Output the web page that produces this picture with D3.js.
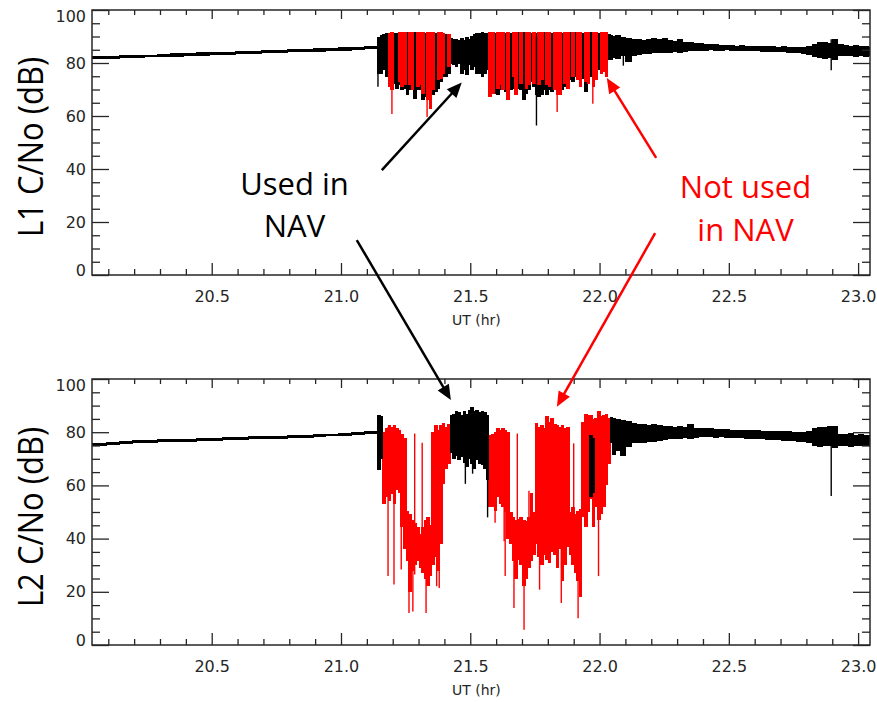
<!DOCTYPE html>
<html>
<head>
<meta charset="utf-8">
<script src="https://cdn.jsdelivr.net/npm/d3@7"></script>
<style>
  body { margin: 0; background: #fff; }
  svg { display: block; }
</style>
</head>
<body>
<svg id="chart" width="877" height="702"></svg>
<script>
// bin start times (UT hours), shared by both panels
const binTime = [
  20.03, 20.09, 20.14, 20.19, 20.24, 20.29, 20.34, 20.39, 20.44, 20.49, 20.54,
  20.59, 20.64, 20.69, 20.74, 20.79, 20.84, 20.89, 20.94, 20.99, 21.04, 21.09,
  21.14, 21.15, 21.16, 21.17, 21.18, 21.19, 21.20, 21.21, 21.22, 21.23,
  21.24, 21.25, 21.26, 21.27, 21.28, 21.29, 21.30, 21.31, 21.32, 21.33,
  21.34, 21.35, 21.36, 21.37, 21.38, 21.39, 21.40, 21.41, 21.42, 21.43,
  21.44, 21.45, 21.46, 21.47, 21.48, 21.49, 21.50, 21.51, 21.52, 21.53,
  21.54, 21.55, 21.56, 21.57, 21.58, 21.59, 21.60, 21.61, 21.62, 21.63,
  21.64, 21.65, 21.66, 21.67, 21.68, 21.69, 21.70, 21.71, 21.72, 21.73,
  21.74, 21.75, 21.76, 21.77, 21.78, 21.79, 21.80, 21.81, 21.82, 21.83,
  21.84, 21.85, 21.86, 21.87, 21.88, 21.89, 21.90, 21.91, 21.92, 21.93,
  21.94, 21.95, 21.96, 21.97, 21.98, 21.99, 22.00, 22.01, 22.02, 22.03,
  22.04, 22.05,
  22.06, 22.08, 22.10, 22.12, 22.14, 22.16, 22.18, 22.20, 22.22, 22.24,
  22.26, 22.28, 22.30, 22.32, 22.34, 22.36, 22.38, 22.40, 22.42, 22.44,
  22.46, 22.48, 22.50, 22.52, 22.54, 22.56, 22.58, 22.60, 22.62, 22.64,
  22.66, 22.68, 22.70, 22.72, 22.74, 22.76, 22.78, 22.80, 22.82, 22.84,
  22.86, 22.88, 22.90, 22.92, 22.94, 22.96, 22.98, 23.00, 23.02, 23.04
];

// L1 C/No, used in NAV (black) - top / bottom of each bin
const l1Hi = [
  82.6, 82.8, 82.9, 83.1, 83.2, 83.4, 83.6, 83.8, 84.0, 84.2, 84.3,
  84.5, 84.7, 84.8, 85.0, 85.2, 85.4, 85.5, 85.7, 85.9, 86.1, 86.3,
  90.0, 90.5, 91.0, 91.2, 91.3, 91.5, 91.4, 91.2, 91.5, 91.6,
  91.5, 91.6, 91.5, 91.4, 91.6, 91.5, 91.5, 91.6, 91.5, 91.5,
  91.6, 91.4, 91.5, 91.5, 91.4, 91.3, 91.0, 90.8, 89.5, 88.9,
  89.2, 88.6, 89.4, 88.8, 89.9, 89.0, 90.3, 91.0, 91.5, 91.2,
  91.6, 91.4, 91.3, 91.5, 91.6, 91.5, 91.6, 91.5, 91.6, 91.5,
  91.6, 91.5, 91.6, 91.5, 91.6, 91.5, 91.6, 91.5, 91.6, 91.5,
  91.6, 91.5, 91.6, 91.5, 91.6, 91.5, 91.6, 91.5, 91.6, 91.5,
  91.6, 91.5, 91.6, 91.5, 91.6, 91.5, 91.6, 91.5, 91.6, 91.5,
  91.6, 91.5, 91.6, 91.5, 91.6, 91.5, 91.6, 91.5, 91.4, 91.0,
  90.6, 90.2,
  90.5, 89.8, 89.5, 89.0, 89.2, 88.8, 89.0, 89.4, 89.0, 89.3,
  88.6, 88.2, 88.9, 88.0, 87.8, 87.5, 87.6, 87.2, 87.0, 87.1,
  86.9, 86.8, 86.8, 86.6, 86.7, 86.5, 86.6, 86.4, 86.5, 86.3,
  86.4, 86.2, 86.3, 86.1, 86.0, 86.2, 86.1, 86.5, 87.3, 87.8,
  88.0, 87.6, 89.0, 87.2, 86.8, 86.5, 86.9, 86.3, 86.6, 86.2
];
const l1Lo = [
  81.5, 81.6, 81.8, 81.9, 82.1, 82.2, 82.4, 82.6, 82.8, 83.0, 83.1,
  83.3, 83.5, 83.6, 83.8, 84.0, 84.2, 84.3, 84.5, 84.7, 84.9, 85.1,
  76.0, 76.0, 77.3, 74.8, 73.5, 72.2, 72.2, 70.3, 71.6, 69.7,
  70.3, 67.8, 69.7, 70.3, 66.5, 69.7, 69.7, 65.9, 67.2, 68.4,
  67.8, 67.8, 69.1, 70.3, 72.9, 74.8, 74.8, 76.0, 79.8, 79.2,
  78.6, 79.8, 76.0, 77.3, 75.4, 79.2, 77.3, 78.6, 76.0, 76.0,
  74.8, 76.0, 77.3, 72.2, 69.7, 68.4, 67.8, 69.7, 72.2, 69.1,
  68.4, 69.7, 70.3, 69.7, 70.3, 69.7, 65.9, 68.4, 69.7, 72.9,
  71.0, 68.0, 67.2, 67.8, 69.7, 67.8, 69.7, 69.1, 71.0, 68.4,
  69.7, 69.7, 71.0, 71.6, 73.5, 72.9, 74.8, 75.4, 76.0, 74.1,
  69.1, 73.5, 74.8, 74.8, 77.3, 77.3, 78.6, 78.6, 79.8, 81.1,
  81.1, 81.7,
  81.5, 82.5, 80.5, 82.8, 83.0, 83.3, 83.5, 83.6, 83.8, 83.6,
  83.9, 84.0, 83.6, 84.2, 84.4, 84.5, 84.4, 84.7, 84.8, 84.6,
  84.7, 84.9, 84.7, 84.7, 84.5, 84.6, 84.4, 84.4, 84.2, 84.3,
  84.1, 84.0, 84.0, 83.9, 83.8, 83.6, 83.5, 83.2, 82.4, 81.8,
  81.5, 82.0, 81.0, 82.5, 82.6, 82.8, 82.4, 82.5, 82.3, 82.6
];

// L1 C/No, not used in NAV (red), 0.01 hr bins
const l1RedTime = [
  21.18, 21.19, 21.22, 21.23, 21.24, 21.26, 21.27, 21.29, 21.30, 21.31,
  21.33, 21.34, 21.35, 21.37, 21.38, 21.39, 21.41,
  21.57, 21.58, 21.60, 21.61, 21.62, 21.64, 21.66, 21.67, 21.69, 21.71,
  21.72, 21.74, 21.76, 21.77, 21.79, 21.80, 21.82, 21.83, 21.84, 21.86,
  21.87, 21.89, 21.91, 21.92, 21.94, 21.95, 21.97, 21.98, 22.00, 22.01,
  22.02
];
const l1RedHi = [
  91.5, 91.8, 91.6, 91.8, 91.8, 91.8, 91.7, 91.8, 91.8, 91.8,
  91.8, 91.8, 91.7, 91.7, 91.6, 91.5, 91.0,
  91.8, 91.8, 91.8, 91.8, 91.8, 91.8, 91.8, 91.8, 91.8, 91.8,
  91.8, 91.8, 91.8, 91.8, 91.8, 91.8, 91.8, 91.8, 91.8, 91.8,
  91.8, 91.8, 91.8, 91.8, 91.8, 91.8, 91.8, 91.8, 91.8, 91.8,
  91.7
];
const l1RedLo = [
  71.0, 70.0, 72.9, 71.0, 71.6, 71.6, 69.7, 71.0, 71.6, 68.4,
  66.0, 62.7, 69.7, 73.5, 74.1, 76.0, 78.6,
  67.2, 68.4, 70.3, 71.6, 69.7, 65.9, 74.8, 67.8, 72.2, 70.3,
  71.6, 72.2, 71.6, 73.5, 71.6, 71.0, 69.7, 68.0, 67.8, 72.2,
  70.3, 74.8, 73.5, 71.0, 72.9, 72.2, 71.0, 73.5, 76.0, 76.7,
  74.8
];

// single deep fades (thin lines)
const l1SpikeTime  = [21.143, 21.197, 21.333, 21.756, 21.836, 21.974, 22.092, 22.896];
const l1SpikeHi    = [88.0, 91.0, 91.0, 90.0, 91.0, 91.0, 88.0, 89.0];
const l1SpikeLo    = [71.0, 60.8, 59.6, 56.4, 61.5, 64.6, 79.0, 77.3];
const l1SpikeColor = ["k", "r", "r", "k", "r", "r", "k", "k"];

// L2 C/No, used in NAV (black); null where only red data
const l2Hi = [
  76.0, 76.4, 76.7, 76.9, 77.1, 77.3, 77.4, 77.5, 77.7, 77.9, 78.1,
  78.2, 78.4, 78.6, 78.7, 78.8, 79.0, 79.2, 79.5, 79.7, 80.0, 80.3,
  86.5, 86.0, null, null, null, null, null, null, null, null,
  null, null, null, null, null, null, null, null, null, null,
  null, null, null, null, null, null, null, null, 86.5, 87.0,
  88.0, 87.5, 86.5, 88.0, 87.0, 88.5, 89.6, 88.0, 88.5, 87.5,
  88.0, 87.5, 86.5, null, null, null, null, null, null, null,
  null, null, null, null, null, null, null, null, null, null,
  null, null, null, null, null, null, null, null, null, null,
  null, null, null, null, null, null, null, null, null, null,
  null, null, 79.0, 78.0, null, null, null, null, null, null,
  85.9, 85.5,
  85.0, 84.5, 84.3, 83.5, 83.2, 83.0, 82.8, 83.0, 82.6, 82.5,
  82.2, 82.0, 82.3, 82.0, 83.0, 81.6, 81.5, 81.4, 81.5, 81.3,
  81.2, 81.1, 81.0, 81.0, 80.9, 80.8, 80.7, 80.7, 80.6, 80.5,
  80.5, 80.4, 80.3, 80.3, 80.2, 80.2, 80.1, 80.6, 81.5, 82.0,
  81.8, 82.2, 82.5, 79.5, 79.3, 79.6, 79.0, 79.2, 78.9, 79.1
];
const l2Lo = [
  74.7, 75.3, 75.6, 75.8, 76.0, 76.2, 76.3, 76.4, 76.6, 76.8, 77.0,
  77.1, 77.3, 77.5, 77.6, 77.7, 77.9, 78.1, 78.4, 78.6, 78.9, 79.2,
  65.7, 70.0, null, null, null, null, null, null, null, null,
  null, null, null, null, null, null, null, null, null, null,
  null, null, null, null, null, null, null, null, 72.0, 70.0,
  71.0, 69.4, 70.5, 68.5, 66.9, 70.0, 68.0, 66.0, 69.4, 68.0,
  67.5, 66.0, 62.0, null, null, null, null, null, null, null,
  null, null, null, null, null, null, null, null, null, null,
  null, null, null, null, null, null, null, null, null, null,
  null, null, null, null, null, null, null, null, null, null,
  null, null, 55.5, 57.0, null, null, null, null, null, null,
  76.0, 71.3,
  73.0, 71.0, 74.5, 75.8, 76.0, 75.8, 76.5, 76.2, 76.8, 77.0,
  77.3, 77.5, 77.6, 77.7, 77.5, 78.0, 78.2, 78.3, 78.2, 78.0,
  78.1, 78.0, 77.9, 77.8, 77.7, 77.6, 77.5, 77.4, 77.3, 77.2,
  77.0, 76.9, 76.8, 76.7, 76.6, 76.5, 76.4, 75.8, 75.0, 74.6,
  74.8, 75.0, 74.0, 74.8, 75.0, 74.6, 75.0, 74.8, 74.9, 74.7
];

// L2 C/No, not used in NAV (red), 0.01 hr bins
const l2RedTime = [
  21.16, 21.17, 21.18, 21.19, 21.20, 21.21, 21.22, 21.23, 21.24, 21.25,
  21.26, 21.27, 21.28, 21.29, 21.30, 21.31, 21.32, 21.33, 21.34, 21.35,
  21.36, 21.37, 21.38, 21.39, 21.40, 21.41,
  21.57, 21.58, 21.59, 21.60, 21.61, 21.62, 21.63, 21.64, 21.65, 21.66,
  21.67, 21.68, 21.69, 21.70, 21.71, 21.72, 21.73, 21.74, 21.75, 21.76,
  21.77, 21.78, 21.79, 21.80, 21.81, 21.82, 21.83, 21.84, 21.85, 21.86,
  21.87, 21.88, 21.89, 21.90, 21.91, 21.92, 21.93, 21.94, 21.95, 21.96,
  21.97, 21.98, 21.99, 22.00, 22.01, 22.02, 22.03
];
const l2RedHi = [
  80.2, 81.4, 82.7, 82.1, 82.7, 81.4, 80.8, 79.5, 78.0, 50.5,
  49.2, 47.0, 46.0, 44.2, 41.7, 44.5, 47.0, 48.0, 45.0, 80.0,
  82.7, 81.0, 82.7, 83.5, 82.0, 83.0,
  78.9, 79.5, 80.0, 81.4, 81.0, 81.4, 81.0, 80.2, 50.0, 48.0,
  47.0, 47.5, 48.0, 47.0, 46.7, 48.0, 57.0, 50.0, 83.3, 82.0,
  82.7, 81.5, 86.0, 84.0, 85.5, 83.0, 82.7, 82.0, 82.7, 81.4,
  82.0, 50.0, 51.8, 49.2, 50.5, 51.0, 84.0, 87.0, 86.5, 86.5,
  85.0, 85.5, 87.8, 86.0, 86.5, 87.0, 85.5
];
const l2RedLo = [
  53.0, 55.5, 54.3, 56.8, 53.0, 58.1, 57.0, 44.2, 36.0, 31.6,
  20.0, 28.0, 30.0, 31.6, 29.0, 27.0, 25.0, 22.0, 26.0, 30.0,
  33.0, 28.0, 37.9, 60.6, 66.0, 68.0,
  51.8, 52.0, 50.5, 55.5, 53.0, 52.0, 50.0, 40.0, 38.0, 31.6,
  25.0, 32.0, 30.0, 22.0, 25.0, 29.0, 31.6, 34.0, 37.9, 33.0,
  30.0, 34.0, 32.0, 31.0, 35.0, 34.0, 29.0, 36.0, 24.0, 30.0,
  37.0, 34.0, 30.0, 27.0, 24.0, 18.0, 48.0, 44.2, 50.0, 55.0,
  44.2, 52.0, 47.0, 49.2, 52.0, 60.0, 68.0
];

const l2SpikeTime = [
  21.182, 21.205, 21.233, 21.263, 21.278, 21.285, 21.314, 21.329, 21.370, 21.380,
  21.481, 21.509, 21.567, 21.596, 21.631, 21.635, 21.669, 21.682, 21.708, 21.727,
  21.768, 21.852, 21.900, 21.917, 21.996, 22.896
];
const l2SpikeHi = [
  82.0, 80.0, 79.0, 45.0, 45.0, 79.5, 76.0, 45.0, 80.0, 80.0,
  75.0, 75.0, 80.0, 80.0, 80.0, 80.0, 48.0, 79.5, 45.0, 58.0,
  82.0, 82.0, 75.8, 50.0, 86.0, 82.0
];
const l2SpikeLo = [
  25.9, 22.7, 28.4, 12.0, 12.6, 26.5, 35.0, 12.0, 22.1, 21.4,
  60.6, 64.4, 48.0, 46.0, 39.0, 25.9, 13.9, 30.0, 5.7, 30.0,
  20.8, 15.8, 40.0, 10.1, 25.9, 56.0
];
const l2SpikeColor = [
  "r", "r", "r", "r", "r", "r", "r", "r", "r", "r",
  "k", "k", "k", "r", "r", "r", "r", "r", "r", "r",
  "r", "r", "r", "r", "r", "k"
];

// axis ticks
const xMajorTicks = [20.5, 21.0, 21.5, 22.0, 22.5, 23.0];
const yMajorTicks = [0, 20, 40, 60, 80, 100];

const svg = d3.select("#chart");
const colors = { k: "#000000", r: "#ff0000" };
const inkColor = "#262626";

const x = d3.scaleLinear().domain([20.037, 23.046]).range([92, 870]);
const xMinorTicks = d3.range(20.1, 23.05, 0.1).filter(t => Math.abs(t * 2 - Math.round(t * 2)) > 0.01);
const yMinorTicks = d3.range(5, 100, 5).filter(v => v % 20 !== 0);

const panels = [
  { id: 1, top: 10, bottom: 275, title: "L1 C/No (dB)", titleY: 147,
    hi: l1Hi, lo: l1Lo, redTime: l1RedTime, redHi: l1RedHi, redLo: l1RedLo,
    spikeTime: l1SpikeTime, spikeHi: l1SpikeHi, spikeLo: l1SpikeLo, spikeColor: l1SpikeColor,
    redOnTop: true },
  { id: 2, top: 379, bottom: 645, title: "L2 C/No (dB)", titleY: 517,
    hi: l2Hi, lo: l2Lo, redTime: l2RedTime, redHi: l2RedHi, redLo: l2RedLo,
    spikeTime: l2SpikeTime, spikeHi: l2SpikeHi, spikeLo: l2SpikeLo, spikeColor: l2SpikeColor,
    redOnTop: false }
];

function styleAxis(g) {
  g.select(".domain").remove();
  g.selectAll(".tick line").attr("stroke", inkColor).attr("stroke-width", 1.3);
  g.selectAll(".tick text")
    .attr("fill", inkColor)
    .attr("font-family", "'DejaVu Sans', sans-serif")
    .attr("font-size", 16);
}

panels.forEach(p => {
  const y = d3.scaleLinear().domain([0, 100]).range([p.bottom, p.top]);
  p.y = y;

  svg.append("clipPath").attr("id", "clip" + p.id)
    .append("rect")
    .attr("x", 92).attr("y", p.top)
    .attr("width", 778).attr("height", p.bottom - p.top);

  const plot = svg.append("g").attr("clip-path", `url(#clip${p.id})`);

  const black = binTime.map((t, i) => ({
    t0: t,
    t1: i < binTime.length - 1 ? binTime[i + 1] : t + 0.02,
    hi: p.hi[i], lo: p.lo[i]
  })).filter(d => d.hi != null);

  const red = p.redTime.map((t, i) => ({ t0: t, t1: t + 0.01, hi: p.redHi[i], lo: p.redLo[i] }));

  const layers = p.redOnTop
    ? [[black, colors.k], [red, colors.r]]
    : [[red, colors.r], [black, colors.k]];

  layers.forEach(([data, color]) => {
    plot.append("g")
      .attr("shape-rendering", "crispEdges")
      .selectAll("rect")
      .data(data)
      .join("rect")
      .attr("x", d => x(d.t0))
      .attr("width", d => x(d.t1) - x(d.t0) + 1)
      .attr("y", d => y(d.hi))
      .attr("height", d => y(d.lo) - y(d.hi))
      .attr("fill", color);
  });

  // thin deep fades
  plot.append("g")
    .selectAll("line")
    .data(p.spikeTime.map((t, i) => ({ t, hi: p.spikeHi[i], lo: p.spikeLo[i], c: p.spikeColor[i] })))
    .join("line")
    .attr("x1", d => x(d.t)).attr("x2", d => x(d.t))
    .attr("y1", d => y(d.hi)).attr("y2", d => y(d.lo))
    .attr("stroke", d => colors[d.c])
    .attr("stroke-width", 1.4);

  // box frame
  svg.append("rect")
    .attr("x", 92).attr("y", p.top)
    .attr("width", 778).attr("height", p.bottom - p.top)
    .attr("fill", "none")
    .attr("stroke", inkColor)
    .attr("stroke-width", 1.5);

  // bottom axis (ticks point inward)
  svg.append("g")
    .attr("transform", `translate(0,${p.bottom})`)
    .call(d3.axisBottom(x).tickValues(xMajorTicks).tickSize(-12).tickPadding(16).tickFormat(d3.format(".1f")))
    .call(styleAxis);
  svg.append("g")
    .attr("transform", `translate(0,${p.bottom})`)
    .call(d3.axisBottom(x).tickValues(xMinorTicks).tickSize(-6).tickFormat(""))
    .call(styleAxis);

  // top axis
  svg.append("g")
    .attr("transform", `translate(0,${p.top})`)
    .call(d3.axisTop(x).tickValues(xMajorTicks).tickSize(-9).tickFormat(""))
    .call(styleAxis);
  svg.append("g")
    .attr("transform", `translate(0,${p.top})`)
    .call(d3.axisTop(x).tickValues(xMinorTicks).tickSize(-5).tickFormat(""))
    .call(styleAxis);

  // left axis
  svg.append("g")
    .attr("transform", "translate(92,0)")
    .call(d3.axisLeft(y).tickValues(yMajorTicks).tickSize(-17).tickPadding(6).tickFormat(d3.format("d")))
    .call(styleAxis)
    .call(g => g.selectAll(".tick text")
      .attr("dy", d => d === 100 ? "0.7em" : d === 0 ? "0.01em" : "0.32em"));
  svg.append("g")
    .attr("transform", "translate(92,0)")
    .call(d3.axisLeft(y).tickValues(yMinorTicks).tickSize(-8).tickFormat(""))
    .call(styleAxis);

  // right axis
  svg.append("g")
    .attr("transform", "translate(870,0)")
    .call(d3.axisRight(y).tickValues(yMajorTicks).tickSize(-17).tickFormat(""))
    .call(styleAxis);
  svg.append("g")
    .attr("transform", "translate(870,0)")
    .call(d3.axisRight(y).tickValues(yMinorTicks).tickSize(-8).tickFormat(""))
    .call(styleAxis);

  // x title
  svg.append("text")
    .attr("x", 452).attr("y", p.bottom + 50)
    .attr("font-family", "'DejaVu Sans', sans-serif")
    .attr("font-size", 14)
    .attr("fill", inkColor)
    .text("UT (hr)");

  // y title
  svg.append("text")
    .attr("transform", `translate(43,${p.titleY}) rotate(-90) scale(1,1.12)`)
    .attr("text-anchor", "middle")
    .attr("font-family", "'Open Sans', sans-serif")
    .attr("font-size", 31)
    .attr("fill", "#000")
    .text(p.title);
});

// annotations: arrows from label towards the data (panel index, UT, dB)
const arrows = [
  { c: "k", from: [0, 21.158, 39.6], to: [0, 21.467, 72.6] },
  { c: "k", from: [0, 21.061, 13.2], to: [1, 21.425, 92.1] },
  { c: "r", from: [0, 22.219, 44.2], to: [0, 22.028, 74.3] },
  { c: "r", from: [0, 22.215, 15.8], to: [1, 21.835, 89.6] }
];

const arrowG = svg.append("g");
arrows.forEach(a => {
  const x0 = x(a.from[1]), y0 = panels[a.from[0]].y(a.from[2]);
  const x1 = x(a.to[1]), y1 = panels[a.to[0]].y(a.to[2]);
  const len = Math.hypot(x1 - x0, y1 - y0);
  const ux = (x1 - x0) / len, uy = (y1 - y0) / len;
  const nx = -uy, ny = ux;
  const headLen = 15, headHalf = 6.5;
  arrowG.append("line")
    .attr("x1", x0).attr("y1", y0)
    .attr("x2", x1 - ux * 10).attr("y2", y1 - uy * 10)
    .attr("stroke", colors[a.c])
    .attr("stroke-width", 2.5);
  const bx = x1 - ux * headLen, by = y1 - uy * headLen;
  arrowG.append("path")
    .attr("d", `M${x1},${y1}L${bx + nx * headHalf},${by + ny * headHalf}L${bx - nx * headHalf},${by - ny * headHalf}Z`)
    .attr("fill", colors[a.c]);
});

const labels = [
  { text: "Used in", x: 294.5, y: 195, c: "k" },
  { text: "NAV", x: 294.5, y: 237, c: "k" },
  { text: "Not used", x: 745.5, y: 198, c: "r" },
  { text: "in NAV", x: 745.5, y: 241, c: "r" }
];
svg.append("g")
  .selectAll("text")
  .data(labels)
  .join("text")
  .attr("x", d => d.x).attr("y", d => d.y)
  .attr("text-anchor", "middle")
  .attr("font-family", "'Open Sans', sans-serif")
  .attr("font-size", 31)
  .attr("fill", d => colors[d.c])
  .text(d => d.text);
</script>
</body>
</html>
